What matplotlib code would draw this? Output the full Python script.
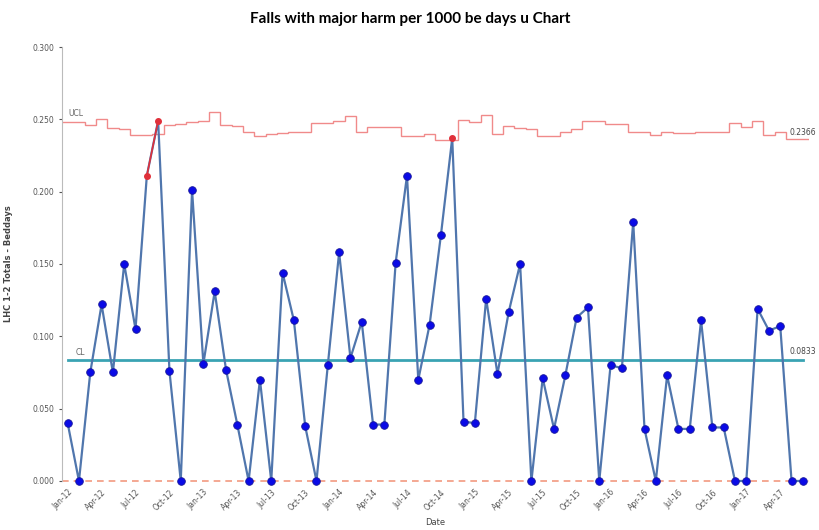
import numpy as np
import pandas as pd
import matplotlib
matplotlib.use("Agg")
import matplotlib.pyplot as plt

# monthly rates, Jan-12 .. Jun-17
months = pd.date_range("2012-01-01", periods=66, freq="MS").strftime("%b-%y").tolist()

rate = [0.040, 0.000, 0.075, 0.122, 0.075, 0.150, 0.105, 0.211, 0.249, 0.076,
        0.000, 0.201, 0.081, 0.131, 0.077, 0.039, 0.000, 0.070, 0.000, 0.144,
        0.111, 0.038, 0.000, 0.080, 0.158, 0.085, 0.110, 0.039, 0.039, 0.151,
        0.211, 0.070, 0.108, 0.170, 0.237, 0.041, 0.040, 0.126, 0.074, 0.117,
        0.150, 0.000, 0.071, 0.036, 0.073, 0.113, 0.120, 0.000, 0.080, 0.078,
        0.179, 0.036, 0.000, 0.073, 0.036, 0.036, 0.111, 0.037, 0.037, 0.000,
        0.000, 0.119, 0.104, 0.107, 0.000, 0.000]

ucl = [0.248, 0.248, 0.246, 0.250, 0.244, 0.243, 0.239, 0.239, 0.240, 0.246,
       0.247, 0.248, 0.249, 0.255, 0.246, 0.2455, 0.2415, 0.2386, 0.240, 0.2405,
       0.2415, 0.2415, 0.2474, 0.2474, 0.249, 0.252, 0.2415, 0.245, 0.245, 0.2445,
       0.2386, 0.2386, 0.240, 0.236, 0.236, 0.2497, 0.248, 0.253, 0.240, 0.2455,
       0.244, 0.243, 0.2386, 0.2386, 0.2415, 0.243, 0.249, 0.249, 0.247, 0.247,
       0.241, 0.241, 0.239, 0.241, 0.2405, 0.2405, 0.2415, 0.2415, 0.2415, 0.2474,
       0.245, 0.249, 0.239, 0.241, 0.2366, 0.2366]

cl = 0.0833
lcl = 0.0
flagged = [7, 8, 34]  # points drawn red

x = np.arange(len(rate))
rate = np.array(rate)
is_flag = np.isin(x, flagged)

fig = plt.figure(figsize=(8.2, 5.3), dpi=100)
ax = fig.add_axes([0.0756, 0.0925, 0.9104, 0.8188])

# UCL step line
ax.stairs(ucl, np.arange(len(ucl) + 1) - 0.5, color="#f08a8a", lw=1.0,
          baseline=None)
# LCL
ax.axhline(lcl, color="#f29a80", lw=1.2, ls=(0, (4, 3)), zorder=2, clip_on=False)
# CL
ax.plot([x[0], x[-1]], [cl, cl], color="#3aa3b3", lw=2.0, zorder=2)

# main series
ax.plot(x, rate, color="#5076ad", lw=1.6, zorder=3, clip_on=False)
ax.plot(x[~is_flag], rate[~is_flag], ls="none", marker="o", ms=5.5,
        mfc="#0a0ae6", mec="#1a1a9a", mew=0.6, zorder=4, clip_on=False)
red = np.where(is_flag, rate, np.nan)
ax.plot(x, red, color="#e0303a", lw=1.2, marker="o", ms=4, zorder=5)

ax.text(0.1, ucl[0] + 0.004, "UCL", fontsize=5.5, color="#666666")
ax.text(0.7, cl + 0.004, "CL", fontsize=5.5, color="#666666")
ax.text(x[-1] - 1.2, ucl[-1] + 0.001, "0.2366", fontsize=5.5, color="#444444",
        va="bottom")
ax.text(x[-1] - 1.2, cl + 0.003, "0.0833", fontsize=5.5, color="#444444",
        va="bottom")

ax.set_xlim(-0.5, len(rate) - 0.5)
ax.set_ylim(0, 0.3)
ax.set_yticks(np.arange(0, 0.31, 0.05))
ax.set_yticklabels([f"{v:.3f}" for v in np.arange(0, 0.31, 0.05)])
ax.set_xticks(x[::3])
ax.set_xticklabels(months[::3], rotation=45, ha="right", rotation_mode="anchor")
ax.tick_params(axis="both", labelsize=5.5, colors="#555555", length=2)
ax.tick_params(axis="x", length=0, pad=5)

for s in ["top", "right"]:
    ax.spines[s].set_visible(False)
ax.spines["left"].set_color("#bbbbbb")
ax.spines["bottom"].set_visible(False)

ax.set_xlabel("Date", fontsize=6, color="#444444", labelpad=4)
ax.set_ylabel("LHC 1-2 Totals - Beddays", fontsize=6, color="#444444",
              fontweight="bold", labelpad=14)
fig.suptitle("Falls with major harm per 1000 be days u Chart", x=0.5, y=0.978,
             fontsize=11, fontweight="bold", family="Lato")

fig.savefig("out.png", dpi=100)
